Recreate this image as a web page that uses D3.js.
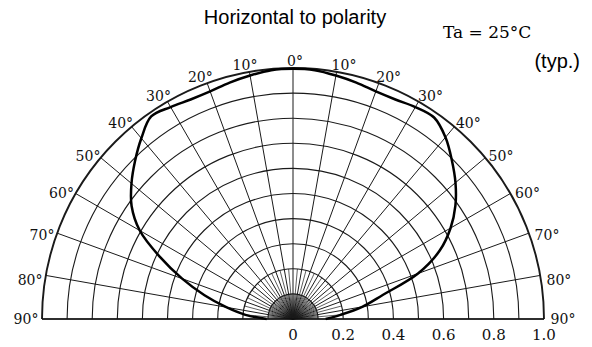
<!DOCTYPE html>
<html>
<head>
<meta charset="utf-8">
<title>Horizontal to polarity</title>
<script src="https://cdn.jsdelivr.net/npm/d3@7"></script>
<style>
  body { margin: 0; background: #fff; }
  svg { display: block; }
</style>
</head>
<body>
<script>
// relative intensity, -90 (left) .. 90 (right) in 5 degree steps
var angles = [-90, -85, -80, -75, -70, -65, -60, -55, -50, -45, -40, -35, -30, -25, -20, -15, -10, -5,
              0, 5, 10, 15, 20, 25, 30, 35, 40, 45, 50, 55, 60, 65, 70, 75, 80, 85, 90];
var intensity = [0.105, 0.19, 0.27, 0.365, 0.47, 0.585, 0.705, 0.785, 0.84, 0.89, 0.94, 0.985, 0.975, 0.965, 0.965, 0.975, 0.985, 0.995,
                 0.997, 0.995, 0.985, 0.975, 0.965, 0.965, 0.975, 0.98, 0.945, 0.895, 0.845, 0.79, 0.725, 0.645, 0.53, 0.37, 0.28, 0.19, 0.13];

var angleTicks = [0, 10, 20, 30, 40, 50, 60, 70, 80, 90];
var radiusTicks = [0, 0.2, 0.4, 0.6, 0.8, 1.0];
var radiusRings = [0.1, 0.2, 0.3, 0.4, 0.5, 0.6, 0.7, 0.8, 0.9, 1.0];

var w = 592, h = 347;
var cx = 293, cy = 319, R = 251;

var svg = d3.select("body").append("svg")
    .attr("width", w)
    .attr("height", h);

var r = d3.scaleLinear().domain([0, 1]).range([0, R]);
var rad = function(deg) { return deg * Math.PI / 180; };

var g = svg.append("g").attr("transform", "translate(" + cx + "," + cy + ")");

// rings
var arc = d3.arc().startAngle(-Math.PI / 2).endAngle(Math.PI / 2).innerRadius(function(d) { return r(d); }).outerRadius(function(d) { return r(d); });
g.selectAll(".ring")
    .data(radiusRings)
    .enter().append("path")
    .attr("d", function(d) { return arc(d); })
    .attr("fill", "none")
    .attr("stroke", "#1a1a1a")
    .attr("stroke-width", function(d) { return d === 1 ? 1.9 : 1.1; });

// spokes: every 10 deg full length, finer ones near the centre
var spokes = [];
for (var a = -90; a <= 90; a += 2.5) {
  var len = a % 10 === 0 ? 1 : (a % 5 === 0 ? 0.2 : 0.1);
  spokes.push({ a: a, len: len });
}
g.selectAll(".spoke")
    .data(spokes)
    .enter().append("line")
    .attr("x1", 0).attr("y1", 0)
    .attr("x2", function(d) { return r(d.len) * Math.sin(rad(d.a)); })
    .attr("y2", function(d) { return -r(d.len) * Math.cos(rad(d.a)); })
    .attr("stroke", "#1a1a1a")
    .attr("stroke-width", function(d) { return d.len === 1 ? 1.0 : 0.7; });

// baseline
g.append("line")
    .attr("x1", -r(1)).attr("x2", r(1))
    .attr("y1", 0).attr("y2", 0)
    .attr("stroke", "#111")
    .attr("stroke-width", 1.7);

// pattern curve
var line = d3.lineRadial()
    .angle(function(d, i) { return rad(angles[i]); })
    .radius(function(d) { return r(d); })
    .curve(d3.curveCatmullRom);
g.append("path")
    .datum(intensity)
    .attr("d", line)
    .attr("fill", "none")
    .attr("stroke", "#000")
    .attr("stroke-width", 2.5);

// angle labels
var angleLabels = [];
angleTicks.forEach(function(t) {
  if (t === 0) angleLabels.push({ a: 0, t: t });
  else { angleLabels.push({ a: -t, t: t }); angleLabels.push({ a: t, t: t }); }
});
g.selectAll(".alab")
    .data(angleLabels)
    .enter().append("text")
    .attr("x", function(d) {
      var x = (R + 14) * Math.sin(rad(d.a));
      return x + (d.a < 0 ? -2 : (d.a > 0 ? 5 : 2));
    })
    .attr("y", function(d) {
      return -(R + 14) * Math.cos(rad(d.a)) + (Math.abs(d.a) === 90 ? 0 : 7);
    })
    .attr("dy", "0.35em")
    .attr("text-anchor", "middle")
    .attr("font-family", "DejaVu Serif")
    .attr("font-size", 14)
    .attr("fill", "#111")
    .text(function(d) { return d.t + "°"; });

// radius labels
g.selectAll(".rlab")
    .data(radiusTicks)
    .enter().append("text")
    .attr("x", function(d) { return r(d); })
    .attr("y", 21)
    .attr("text-anchor", "middle")
    .attr("font-family", "DejaVu Serif")
    .attr("font-size", 15)
    .attr("fill", "#111")
    .text(function(d) { return d === 0 ? "0" : d.toFixed(1); });

// titles
svg.append("text")
    .attr("x", 295).attr("y", 24)
    .attr("text-anchor", "middle")
    .attr("font-family", "Liberation Sans, Arial, sans-serif")
    .attr("font-size", 20)
    .text("Horizontal to polarity");

svg.append("text")
    .attr("x", 443).attr("y", 38)
    .attr("font-family", "DejaVu Serif")
    .attr("font-size", 17)
    .text("Ta = 25°C");

svg.append("text")
    .attr("x", 580).attr("y", 68)
    .attr("text-anchor", "end")
    .attr("font-family", "Liberation Sans, Arial, sans-serif")
    .attr("font-size", 20)
    .text("(typ.)");
</script>
</body>
</html>
